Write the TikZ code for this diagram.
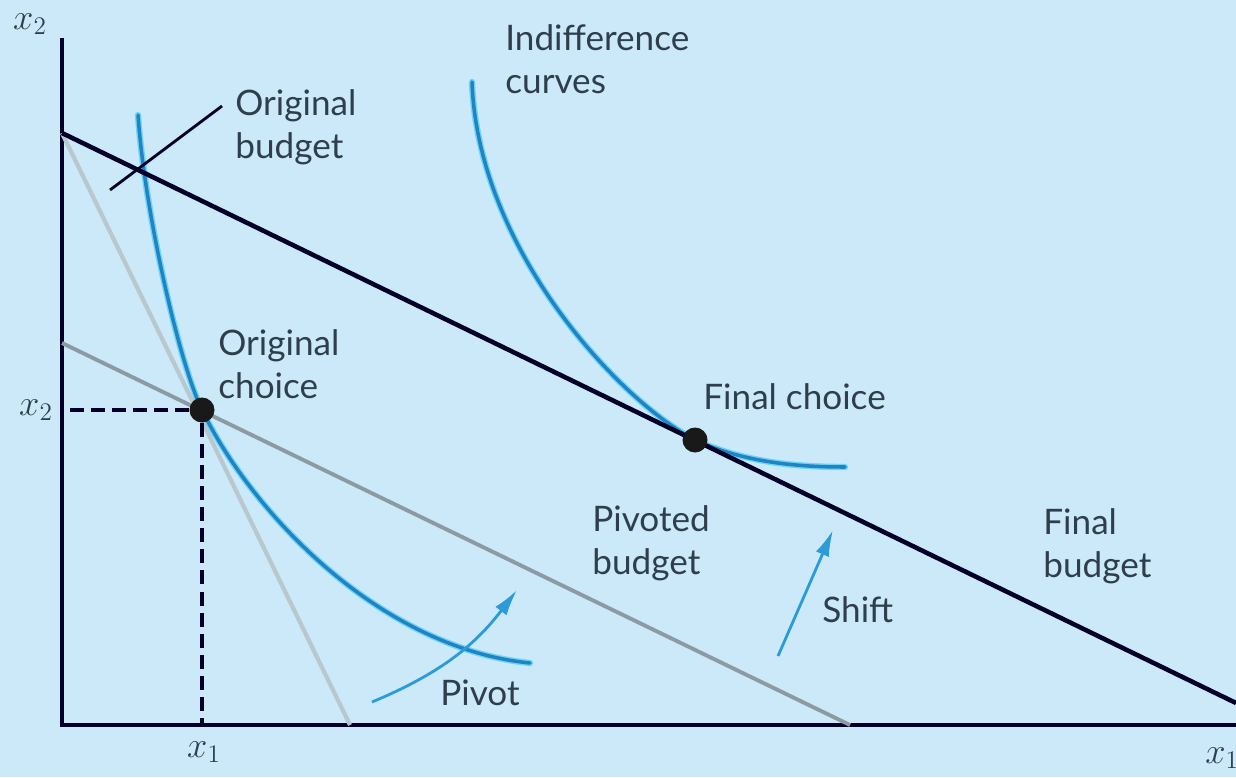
\documentclass[tikz,border=0pt]{standalone}
\usepackage{fontspec}
\setmainfont{Lato}
\usetikzlibrary{positioning, arrows.meta, calc}
\definecolor{bgblue}{HTML}{CBE9F8}
\definecolor{labelgray}{HTML}{2E3E4C}
\definecolor{icblue}{HTML}{1F84C4}
\definecolor{icglow}{HTML}{6FD4F6}
\definecolor{arrblue}{HTML}{2C9BD8}
\definecolor{pivgray}{HTML}{8C9AA4}
\definecolor{origgray}{HTML}{B9C7CF}

\begin{document}
\begin{tikzpicture}[
    x=0.02cm, y=-0.02cm,
    lbl/.style={anchor=west, align=left, text=labelgray, inner sep=0pt, font=\fontsize{20}{24.5}\selectfont},
    axlbl/.style={text=labelgray, inner sep=0pt, font=\fontsize{20}{24}\selectfont},
    budget/.style={line width=2.6pt, draw=black!85!blue},
    pivoted/.style={line width=2.2pt, draw=pivgray},
    original/.style={line width=2.4pt, draw=origgray},
    icurve/.style={line width=2pt, draw=icblue, line cap=round},
    glow/.style={line width=3.6pt, draw=icglow, line cap=round},
    dot/.style={circle, fill=black!90, minimum size=0.5cm, inner sep=0pt},
    guide/.style={line width=1.9pt, black!85!blue, dash pattern=on 8pt off 4pt},
    arr/.style={line width=1.6pt, draw=arrblue, -{Latex[length=15pt, width=8pt]}}
]
    \useasboundingbox[fill=bgblue] (0,0) rectangle (1236,777);

    % Axes
    \coordinate (O) at (62,725);
    \coordinate (ytop) at (62,38);
    \coordinate (xend) at (1236,725);
    \draw[line width=1.8pt, black!85!blue] (ytop) -- (O) -- (xend);
    \node[axlbl] (x2top) at (30,24) {$x_2$};
    \node[axlbl] (x1end) at (1222,758) {$x_1$};

    % Budget lines
    \coordinate (fbtop) at (62,133);
    \coordinate (fbend) at (1236,703);
    \coordinate (pbtop) at (62,343);
    \coordinate (pbend) at (850,725);
    \coordinate (obend) at (350,725);
    \draw[original] (fbtop) -- (obend);
    \draw[pivoted] (pbtop) -- (pbend);

    % Indifference curves
    \foreach \s in {glow, icurve} {
        \draw[\s] (138,115) .. controls (145,215) and (180,365) .. (202,410)
                  .. controls (252,513) and (380,648) .. (530,663);
        \draw[\s] (472,82) .. controls (478,250) and (620,401) .. (695,440)
                  .. controls (745,463) and (800,467) .. (845,467);
    }

    \draw[budget] (fbtop) -- (fbend);

    % Choices
    \node[dot] (oc) at (202,410) {};
    \node[dot] (fc) at (695,440) {};
    \draw[guide] (oc) -- (oc -| O);
    \draw[guide] (oc) -- (oc |- O);
    \node[axlbl] (x2mark) at (36,410) {$x_2$};
    \node[axlbl] (x1mark) at (204,752) {$x_1$};

    % Labels
    \node[lbl] (origbud) at (235,127) {Original\\budget};
    \node[lbl] (indiff) at (505,59) {Indifference\\curves};
    \node[lbl] (origch) at (218,364) {Original\\choice};
    \node[lbl] (finch) at (703,397) {Final choice};
    \node[lbl] (pivbud) at (592,543) {Pivoted\\budget};
    \node[lbl] (finbud) at (1043,546) {Final\\budget};
    \node[lbl] (shift) at (822,610) {Shift};
    \node[lbl] (pivot) at (440,693) {Pivot};

    % Pointer and arrows
    \coordinate (ptrtop) at (222,106);
    \coordinate (ptrbot) at (110,190);
    \draw[line width=1.6pt, black!85!blue] (ptrbot) -- (ptrtop);
    \coordinate (pivs) at (372,702);
    \coordinate (pive) at (517,590);
    \draw[arr] (pivs) to[bend right=15] (pive);
    \coordinate (shs) at (778,656);
    \coordinate (she) at (833,530);
    \draw[arr] (shs) -- (she);
\end{tikzpicture}
\end{document}
